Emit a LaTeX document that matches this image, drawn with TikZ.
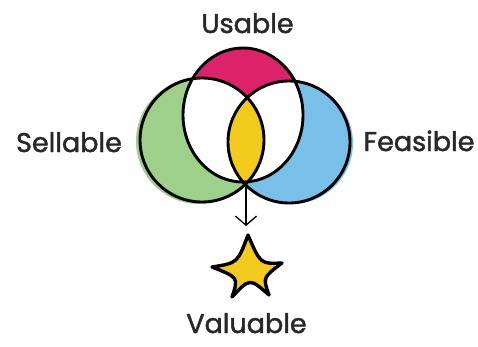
\documentclass[tikz,border=0pt]{standalone}
\usepackage{fontspec}
\setmainfont{Poppins}[FakeBold=1.6]
\usetikzlibrary{arrows.meta}
\definecolor{mag}{RGB}{220,34,104}
\definecolor{grn}{RGB}{158,208,137}
\definecolor{blu}{RGB}{121,192,232}
\definecolor{ylw}{RGB}{242,202,27}
\definecolor{ink}{RGB}{40,40,40}
\tikzset{
  lbl/.style={anchor=base,text=ink,font=\fontsize{27}{30}\selectfont,inner sep=0pt},
  ring/.style={draw=black,line width=2.9pt},
  connector/.style={draw=black,line width=1.3pt,-{Straight Barb[length=9pt,width=21pt,line width=1.3pt]}},
  starline/.style={draw=black,fill=ylw,line width=3.4pt,line join=round}
}
\begin{document}
\begin{tikzpicture}[x=1pt,y=-1pt]
\useasboundingbox (0,0) rectangle (478,346);
% colour fills (slightly offset, hand-drawn look)
\fill[mag] (245,115) ellipse [x radius=60,y radius=67];
\fill[grn] (199,141) circle [radius=63];
\fill[blu] (292,143) circle [radius=61];
% white overlaps of the top circle with the side circles
\begin{scope}
  \clip (243,115) ellipse [x radius=60,y radius=67];
  \fill[white] (202,140) circle [radius=62];
  \fill[white] (289,142) circle [radius=61];
\end{scope}
% yellow lens
\begin{scope}
  \clip (202,140) circle [radius=62];
  \fill[ylw] (289,142) circle [radius=61];
\end{scope}
% outlines
\draw[ring] (243,115) ellipse [x radius=60,y radius=67];
\draw[ring] (202,140) circle [radius=62];
\draw[ring] (289,142) circle [radius=61];
% labels
\node[lbl] (usable) at (247.5,33) {Usable};
\node[lbl] (sellable) at (69,152) {Sellable};
\node[lbl] (feasible) at (419,151) {Feasible};
\node[lbl] (valuable) at (246.5,333) {Valuable};
% star
\coordinate (startip) at (248,226);
\draw[starline] (248,235) .. controls (260.5,264) .. (282,263)
  .. controls (262.75,277.5) .. (269,295)
  .. controls (249.75,278) .. (232,297)
  .. controls (238.5,277.5) .. (212,267)
  .. controls (237.5,263) .. cycle;
% arrow
\coordinate (meet) at (246,183);
\draw[connector] (meet) -- (meet |- startip);
\end{tikzpicture}
\end{document}
